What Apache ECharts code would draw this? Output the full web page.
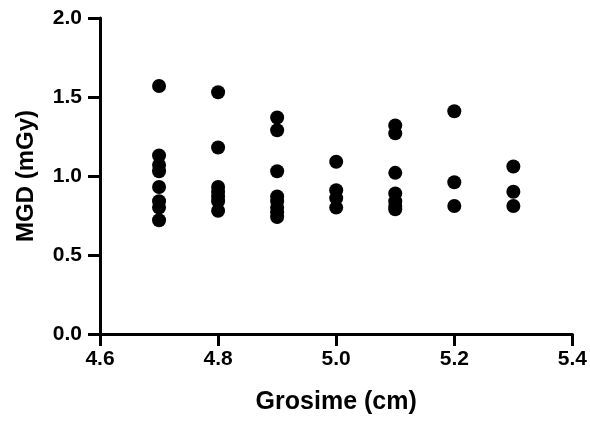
<!DOCTYPE html>
<html>
<head>
<meta charset="utf-8">
<script src="https://cdn.jsdelivr.net/npm/echarts@6/dist/echarts.min.js"></script>
<style>
  html, body { margin: 0; padding: 0; background: #fff; }
  #chart { width: 590px; height: 421px; }
</style>
</head>
<body>
<div id="chart"></div>
<script>
// thickness (cm) and dose (mGy) for each measurement
const thickness = [
  4.7, 4.7, 4.7, 4.7, 4.7, 4.7, 4.7, 4.7,
  4.8, 4.8, 4.8, 4.8, 4.8, 4.8, 4.8,
  4.9, 4.9, 4.9, 4.9, 4.9, 4.9, 4.9, 4.9,
  5.0, 5.0, 5.0, 5.0,
  5.1, 5.1, 5.1, 5.1, 5.1, 5.1, 5.1,
  5.2, 5.2, 5.2,
  5.3, 5.3, 5.3
];
const mgd = [
  1.57, 1.13, 1.07, 1.03, 0.93, 0.84, 0.80, 0.72,
  1.53, 1.18, 0.93, 0.90, 0.87, 0.84, 0.78,
  1.37, 1.29, 1.03, 0.87, 0.84, 0.80, 0.77, 0.74,
  1.09, 0.91, 0.86, 0.80,
  1.32, 1.27, 1.02, 0.89, 0.84, 0.81, 0.79,
  1.41, 0.96, 0.81,
  1.06, 0.90, 0.81
];
const xTicks = [4.6, 4.8, 5.0, 5.2, 5.4];
const yTicks = [0, 0.5, 1.0, 1.5, 2.0];

const points = thickness.map((t, i) => [t, mgd[i]]);

const chart = echarts.init(document.getElementById('chart'));

const axisText = {
  color: '#000',
  fontFamily: 'Liberation Sans, Arial, sans-serif',
  fontWeight: 'bold',
  fontSize: 21
};

chart.setOption({
  animation: false,
  grid: { left: 100, right: 16, top: 18, bottom: 87, containLabel: false },
  xAxis: {
    type: 'value',
    min: xTicks[0],
    max: xTicks[xTicks.length - 1],
    interval: 0.2,
    name: 'Grosime (cm)',
    nameLocation: 'middle',
    nameGap: 56,
    nameTextStyle: Object.assign({}, axisText, { fontSize: 25 }),
    axisLine: { show: true, onZero: false, lineStyle: { color: '#000', width: 3 } },
    axisTick: { show: true, inside: false, length: 12, lineStyle: { color: '#000', width: 3 } },
    axisLabel: Object.assign({}, axisText, {
      margin: 15,
      formatter: v => v.toFixed(1)
    }),
    splitLine: { show: false }
  },
  yAxis: {
    type: 'value',
    min: yTicks[0],
    max: yTicks[yTicks.length - 1],
    interval: 0.5,
    name: 'MGD (mGy)',
    nameLocation: 'middle',
    nameGap: 62,
    nameTextStyle: Object.assign({}, axisText, { fontSize: 24 }),
    axisLine: { show: true, onZero: false, lineStyle: { color: '#000', width: 3 } },
    axisTick: { show: true, inside: false, length: 12, lineStyle: { color: '#000', width: 3 } },
    axisLabel: Object.assign({}, axisText, {
      margin: 18,
      formatter: v => v.toFixed(1)
    }),
    splitLine: { show: false }
  },
  series: [{
    type: 'scatter',
    data: points,
    symbol: 'circle',
    symbolSize: 14,
    itemStyle: { color: '#000', opacity: 1 }
  }]
});
</script>
</body>
</html>
